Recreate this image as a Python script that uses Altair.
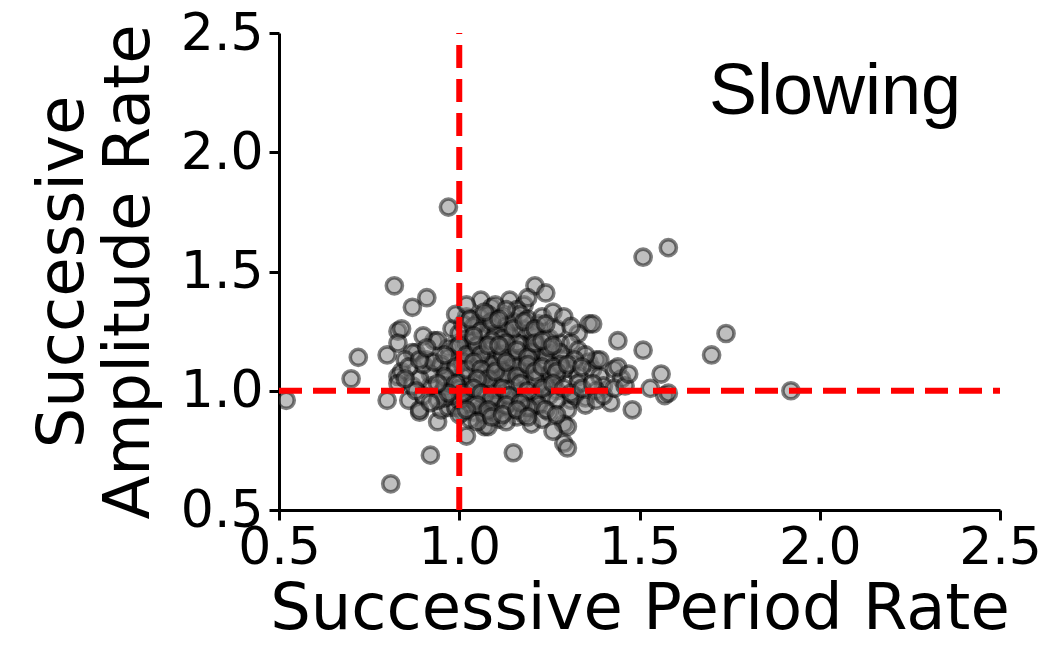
import altair as alt
import pandas as pd

period_rate = [
    0.52, 0.70, 0.72, 0.81, 0.82, 0.80, 0.80, 0.83, 0.84, 0.83,
    0.87, 0.91, 0.92, 0.97, 0.86, 0.89, 0.94, 1.02, 1.07, 1.06,
    1.02, 0.98, 1.06, 0.95, 0.83, 0.84, 0.88, 0.93, 0.97, 0.90,
    0.94, 0.87, 0.91, 0.85, 0.95, 0.83, 0.87, 0.89, 0.97, 0.92,
    1.04, 1.08, 1.03, 0.99, 0.97, 1.03, 1.07, 1.01, 1.06, 0.98,
    0.95, 1.03, 1.08, 0.99, 1.09, 1.08, 1.09, 1.10, 1.01, 1.07,
    1.21, 1.24, 1.14, 1.18, 1.10, 1.16, 1.12, 1.22, 1.36, 1.33,
    1.28, 1.44, 1.31, 1.33, 1.18, 1.13, 1.10, 1.14, 1.20, 1.23,
    1.18, 1.11, 1.14, 1.20, 1.24, 1.29, 1.36, 1.31, 1.33, 1.37,
    1.39, 1.27, 1.22, 1.18, 1.12, 1.43, 1.45, 1.42, 1.31, 1.35,
    1.27, 1.22, 1.17, 1.11, 1.15, 1.20, 1.25, 1.30, 1.29, 1.20,
    1.16, 1.10, 1.30, 1.29, 1.30, 1.15, 1.40, 1.38, 1.33,
    1.51, 1.58, 1.74, 1.70, 1.92, 1.37, 1.51, 1.56, 1.53, 1.57,
    1.58, 1.48, 1.44, 1.38,
    1.00, 1.02, 1.03, 1.05, 1.07, 1.09, 1.10, 1.12, 1.14, 1.15,
    1.17, 1.19, 1.21, 1.22, 1.24, 1.25, 1.27, 1.28, 1.29, 1.25,
    1.24, 1.21, 1.18, 1.15, 1.13, 1.10, 1.07, 1.04, 1.02, 0.99,
    0.97, 1.01, 1.04, 1.08, 1.11, 1.15, 1.18, 1.21, 1.25, 1.17,
    1.13, 1.08, 1.05, 1.01, 0.99, 1.02, 1.11, 1.14, 1.18, 1.22,
    1.27, 1.03, 1.07, 1.11, 1.00, 0.98, 0.96, 0.95, 0.92, 0.90,
    0.89, 0.90, 1.00, 1.08, 1.13, 1.19, 1.23, 1.26, 1.32, 1.35,
    1.38, 1.40, 1.43, 1.46, 1.47, 1.39, 1.35, 1.32, 1.28, 1.25,
    1.20, 1.16, 1.13, 1.09, 1.06, 1.03, 1.00, 0.96, 0.94, 1.04,
    1.10, 1.16, 1.20, 1.23, 1.26, 1.29, 1.31, 1.19, 1.13,
    1.03, 1.06, 1.09, 1.12, 1.15, 1.18, 1.21, 1.24, 1.07, 1.11,
    1.00, 1.02, 1.05, 1.06, 1.09, 1.12, 1.13, 1.16, 1.19, 1.21,
    1.23, 1.26, 1.04, 1.08, 1.11,
    0.99, 1.02, 1.04, 1.06, 1.08, 1.10, 1.13, 1.16, 1.19, 1.21,
    1.23, 1.26, 1.27, 1.30, 1.34, 1.05, 0.96, 0.93,
    0.99, 1.01, 1.04, 1.06, 1.09, 1.12, 1.14, 1.17, 1.19, 1.23,
    1.26, 1.29, 1.31, 1.34, 1.37, 1.05, 1.08, 1.13, 1.17, 0.97,
    1.02, 1.05, 1.09, 1.12, 1.16, 1.19, 1.24, 1.27,
    0.86, 0.89, 0.91, 0.88, 0.85, 0.92, 0.94, 0.96,
]

amplitude_rate = [
    0.96, 1.05, 1.14, 0.61, 1.44, 1.15, 0.96, 1.25, 1.26, 1.20,
    1.35, 1.39, 0.73, 1.77, 0.96, 0.91, 0.87, 0.81, 0.85, 1.38,
    1.31, 1.26, 1.31, 0.92, 1.06, 1.08, 1.16, 1.21, 1.18, 1.23,
    1.21, 1.16, 1.13, 1.13, 1.10, 1.03, 1.02, 0.92, 0.93, 1.02,
    0.91, 1.24, 1.18, 1.18, 1.14, 1.12, 1.10, 1.06, 1.03, 1.00,
    0.99, 0.97, 0.95, 0.93, 1.35, 1.28, 1.18, 1.05, 0.91, 0.91,
    1.44, 1.41, 1.38, 1.36, 1.36, 1.34, 1.31, 1.28, 1.28, 1.24,
    1.20, 1.21, 1.20, 1.17, 1.26, 1.27, 1.23, 1.18, 1.20, 1.17,
    1.14, 1.14, 1.10, 1.12, 1.12, 1.13, 1.12, 1.09, 1.06, 1.09,
    1.06, 1.06, 1.06, 1.06, 1.06, 1.09, 1.05, 0.95, 0.96, 0.97,
    1.00, 0.99, 0.99, 0.97, 0.95, 0.93, 0.91, 0.92, 0.86, 0.86,
    0.89, 0.91, 0.85, 0.78, 0.76, 0.74, 1.02, 1.00, 1.03,
    1.56, 1.60, 1.24, 1.15, 1.00, 1.28, 1.17, 1.07, 1.01, 0.98,
    0.99, 0.92, 1.10, 1.13,
    1.24, 1.20, 1.16, 1.13, 1.08, 1.01, 1.13, 1.18, 1.23, 1.29,
    1.32, 1.30, 1.23, 1.19, 1.15, 1.22, 1.26, 1.16, 1.09, 1.07,
    1.02, 0.98, 0.96, 1.02, 0.98, 0.94, 0.98, 0.96, 1.00, 1.05,
    1.08, 1.12, 1.21, 1.17, 1.10, 1.13, 1.09, 1.05, 0.98, 1.19,
    1.25, 1.32, 1.28, 1.28, 1.32, 1.36, 1.05, 0.92, 0.90, 0.94,
    0.96, 0.88, 0.90, 0.88, 0.96, 0.98, 1.02, 1.11, 1.07, 0.98,
    1.05, 1.11, 0.90, 0.85, 0.87, 0.93, 0.88, 0.83, 0.98, 0.94,
    0.96, 0.98, 1.01, 1.02, 1.07, 1.13, 1.15, 1.13, 1.11, 1.18,
    1.16, 1.10, 1.07, 1.11, 1.05, 1.02, 1.01, 0.97, 0.96, 1.27,
    1.24, 1.20, 1.25, 1.31, 1.33, 1.31, 1.27, 1.39, 1.34,
    1.30, 1.25, 1.29, 1.22, 1.26, 1.29, 1.26, 1.28, 1.33, 1.30,
    1.19, 1.15, 1.19, 1.15, 1.21, 1.15, 1.20, 1.17, 1.14, 1.20,
    1.21, 1.19, 1.23, 1.19, 1.19,
    1.10, 1.09, 1.12, 1.09, 1.05, 1.08, 1.12, 1.06, 1.11, 1.08,
    1.10, 1.10, 1.08, 1.11, 1.10, 1.05, 1.06, 1.12,
    1.03, 0.99, 1.01, 0.99, 0.97, 1.01, 0.98, 1.03, 1.00, 1.01,
    1.03, 1.01, 0.99, 1.01, 1.03, 0.94, 0.92, 0.94, 0.95, 0.99,
    0.92, 0.87, 0.89, 0.90, 0.92, 0.89, 0.92, 0.90,
    1.10, 1.13, 1.18, 1.00, 1.05, 0.95, 1.03, 1.15,
]

ref_value = [1.0]
panel_label = ["Slowing"]
x_ticks = [0.5, 1.0, 1.5, 2.0, 2.5]
y_ticks = [0.5, 1.0, 1.5, 2.0, 2.5]

n = min(len(period_rate), len(amplitude_rate))
pts = pd.DataFrame({"period": period_rate[:n], "amp": amplitude_rate[:n]})
ref = pd.DataFrame({"v": ref_value, "lo": [0.5], "hi": [2.5]})
lab = pd.DataFrame({"t": panel_label})

xscale = alt.Scale(domain=[0.5, 2.5], nice=False, zero=False)
yscale = alt.Scale(domain=[0.5, 2.5], nice=False, zero=False)

xaxis = alt.Axis(values=x_ticks, format=".1f", title="Successive Period Rate",
                 grid=False, domainColor="black", domainWidth=3,
                 tickColor="black", tickWidth=3, tickSize=10,
                 labelFont="DejaVu Sans", labelFontSize=52, labelColor="black",
                 labelPadding=2, labelFlush=False, labelOverlap=False,
                 titleFont="DejaVu Sans", titleFontSize=64, titleFontWeight="normal",
                 titleColor="black", titlePadding=4)
yaxis = alt.Axis(values=y_ticks, format=".1f", title=["Successive", "Amplitude Rate"],
                 grid=False, domainColor="black", domainWidth=3,
                 tickColor="black", tickWidth=3, tickSize=10,
                 labelFont="DejaVu Sans", labelFontSize=52, labelColor="black",
                 labelPadding=6, labelFlush=False, labelOverlap=False,
                 titleFont="DejaVu Sans", titleFontSize=64, titleFontWeight="normal",
                 titleColor="black", titlePadding=19, titleLineHeight=66)

points = alt.Chart(pts).mark_circle(
    size=260, fill="gray", fillOpacity=0.5, stroke="black",
    strokeOpacity=0.5, strokeWidth=3.6, clip=True
).encode(
    x=alt.X("period:Q", scale=xscale, axis=xaxis),
    y=alt.Y("amp:Q", scale=yscale, axis=yaxis),
)

hline = alt.Chart(ref).mark_rule(color="red", strokeWidth=6, strokeDash=[23, 11]).encode(
    y=alt.Y("v:Q", scale=yscale), x=alt.X("lo:Q", scale=xscale), x2="hi:Q"
)
vline = alt.Chart(ref).mark_rule(color="red", strokeWidth=6, strokeDash=[23, 11]).encode(
    x=alt.X("v:Q", scale=xscale), y=alt.Y("lo:Q", scale=yscale), y2="hi:Q"
)

label = alt.Chart(lab).mark_text(
    font="Liberation Sans", fontSize=72, color="black", align="center", baseline="alphabetic"
).encode(text="t:N", x=alt.value(556), y=alt.value(81))

chart = alt.layer(points, hline, vline, label).properties(
    width=721, height=477,
    autosize=alt.AutoSizeParams(type="none"),
    padding={"left": 271, "top": 25, "right": 40, "bottom": 120},
).configure(background="white").configure_view(stroke=None)

chart.save("out.html", embed_options={"renderer": "svg", "actions": False})
